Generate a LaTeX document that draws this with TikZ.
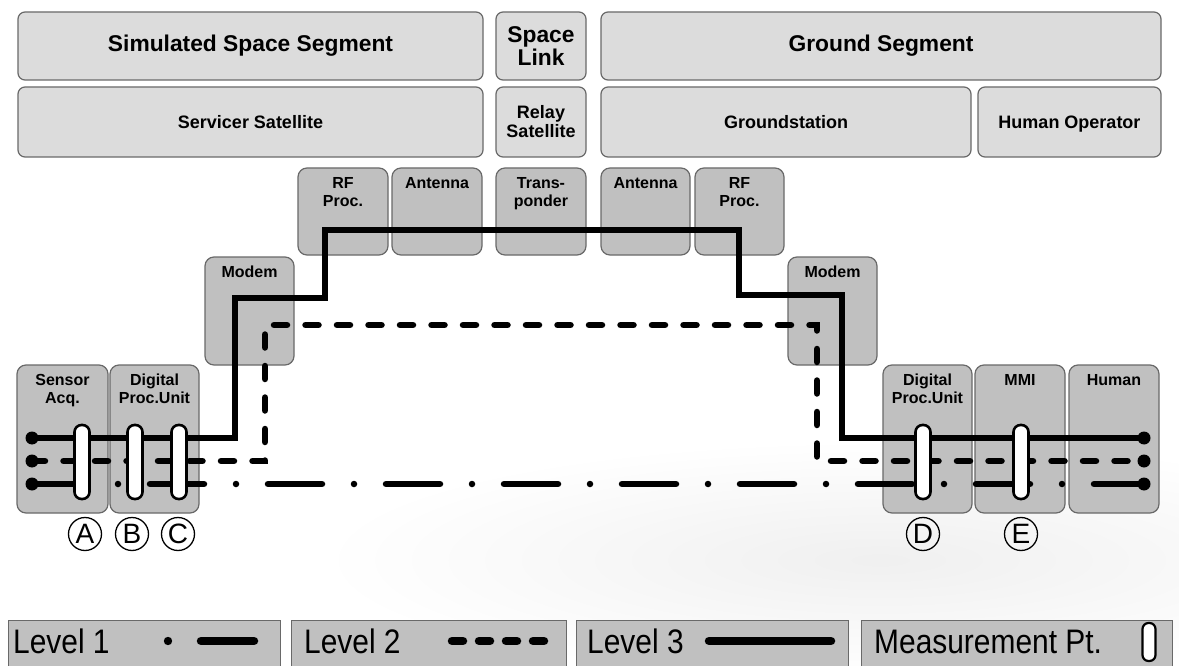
\documentclass[tikz,border=0pt]{standalone}
\usepackage{fontspec}
\setmainfont{Liberation Sans}
\usepackage{graphicx}
\definecolor{segfill}{RGB}{220,220,220}
\definecolor{compfill}{RGB}{192,192,192}
\definecolor{edgecol}{RGB}{105,105,105}
\begin{document}
\begin{tikzpicture}[x=1pt,y=-1pt,
  seg/.style={draw=edgecol, line width=1.2pt, fill=segfill, rounded corners=7pt,
    anchor=north west, inner sep=0pt, outer sep=0pt, align=center, text=black},
  comp/.style={draw=edgecol, line width=1.2pt, fill=compfill, rounded corners=9pt,
    anchor=north west, inner sep=0pt, outer sep=0pt},
  big/.style={font=\fontsize{22.8}{23.5}\selectfont\bfseries},
  mid/.style={font=\fontsize{18}{19}\selectfont\bfseries},
  clab/.style={anchor=north, inner sep=0pt, align=center,
    font=\fontsize{16}{18}\selectfont\bfseries},
  lvlthree/.style={line width=6.5pt, line cap=round, line join=miter},
  lvltwo/.style={line width=6.5pt, line cap=round, dash pattern=on 13pt off 18.5pt},
  lvlone/.style={line width=6.5pt, line cap=round, dash pattern=on 54pt off 32pt on 0pt off 32pt},
  enddot/.style={circle, fill=black, minimum size=13pt, inner sep=0pt},
  mpt/.style={draw=black, fill=white, line width=2.6pt, rounded corners=7pt,
    minimum width=15pt, minimum height=74pt, inner sep=0pt},
  circlab/.style={circle, draw=black, line width=1.3pt, minimum size=33pt, inner sep=0pt,
    font=\fontsize{28}{28}\selectfont},
  legbox/.style={draw=edgecol, line width=1pt, fill=compfill, anchor=north west,
    minimum height=56pt, inner sep=0pt, outer sep=0pt},
  legtext/.style={anchor=base west, inner sep=0pt, font=\fontsize{34}{34}\selectfont}
]
\useasboundingbox (0,0) rectangle (1179,666);
\clip (0,0) rectangle (1179,666);
\fill[white] (0,0) rectangle (1179,666);
\shade[inner color=gray!12, outer color=white] (880,560) ellipse [x radius=560pt, y radius=120pt];

% Row 1
\node[seg, big, minimum width=465pt, minimum height=68pt] (sim) at (18,12) {Simulated Space Segment};
\node[seg, big, minimum width=90pt, minimum height=68pt] (slink) at (496,12) {Space\\Link};
\node[seg, big, minimum width=560pt, minimum height=68pt] (gseg) at (601,12) {Ground Segment};
% Row 2
\node[seg, mid, minimum width=465pt, minimum height=70pt] (serv) at (18,87) {Servicer Satellite};
\node[seg, mid, minimum width=90pt, minimum height=70pt] (relay) at (496,87) {Relay\\Satellite};
\node[seg, mid, minimum width=370pt, minimum height=70pt] (gstat) at (601,87) {Groundstation};
\node[seg, mid, minimum width=183pt, minimum height=70pt, text depth=0pt] (hop) at (978,87) {Human Operator};

% Row 3
\node[comp, minimum width=90pt, minimum height=87pt] (rfl) at (298,168) {};
\node[comp, minimum width=90pt, minimum height=87pt] (antl) at (392,168) {};
\node[comp, minimum width=90pt, minimum height=87pt] (trans) at (496,168) {};
\node[comp, minimum width=89pt, minimum height=87pt] (antr) at (601,168) {};
\node[comp, minimum width=89pt, minimum height=87pt] (rfr) at (695,168) {};
% Modems
\node[comp, minimum width=89pt, minimum height=108pt] (modl) at (205,257) {};
\node[comp, minimum width=89pt, minimum height=108pt] (modr) at (788,257) {};
% Bottom
\node[comp, minimum width=91pt, minimum height=148pt] (sens) at (17,365) {};
\node[comp, minimum width=89pt, minimum height=148pt] (dpul) at (110,365) {};
\node[comp, minimum width=89pt, minimum height=148pt] (dpur) at (883,365) {};
\node[comp, minimum width=90pt, minimum height=148pt] (mmi) at (975,365) {};
\node[comp, minimum width=90pt, minimum height=148pt] (hum) at (1069,365) {};

\node[clab] (trfl) at ([yshift=-9pt]rfl.north) {RF\\Proc.};
\node[clab] (tantl) at ([yshift=-9pt]antl.north) {Antenna};
\node[clab] (ttrans) at ([yshift=-9pt]trans.north) {Trans-\\ponder};
\node[clab] (tantr) at ([yshift=-9pt]antr.north) {Antenna};
\node[clab] (trfr) at ([yshift=-9pt]rfr.north) {RF\\Proc.};
\node[clab] (tmodl) at ([yshift=-9pt]modl.north) {Modem};
\node[clab] (tmodr) at ([yshift=-9pt]modr.north) {Modem};
\node[clab] (tsens) at ([yshift=-9pt]sens.north) {Sensor\\Acq.};
\node[clab] (tdpul) at ([yshift=-9pt]dpul.north) {Digital\\Proc.Unit};
\node[clab] (tdpur) at ([yshift=-9pt]dpur.north) {Digital\\Proc.Unit};
\node[clab] (tmmi) at ([yshift=-9pt]mmi.north) {MMI};
\node[clab] (thum) at ([yshift=-9pt]hum.north) {Human};

% Level lines
\node[enddot] (l3s) at (32,438) {};
\node[enddot] (l3e) at (1144,438) {};
\node[enddot] (l2s) at (32,461) {};
\node[enddot] (l2e) at (1144,461) {};
\node[enddot] (l1s) at (32,484) {};
\node[enddot] (l1e) at (1144,484) {};

\draw[lvlthree] (l3s.center) -- (235,438) -- (235,298) -- (325,298) -- (325,230)
  -- (739,230) -- (739,295) -- (842,295) -- (842,438) -- (l3e.center);
\draw[lvltwo] (l2s.center) -- (265,461) -- (265,325) -- (817,325) -- (817,461) -- (l2e.center);
\draw[lvlone] (l1s.center) -- (l1e.center);

% Measurement points
\node[mpt] (mA) at (82,462) {};
\node[mpt] (mB) at (135,462) {};
\node[mpt] (mC) at (179,462) {};
\node[mpt] (mD) at (923,462) {};
\node[mpt] (mE) at (1021,462) {};

\node[circlab] (cA) at (85,534) {A};
\node[circlab] (cB) at (132,534) {B};
\node[circlab] (cC) at (178,534) {C};
\node[circlab] (cD) at (923,534) {D};
\node[circlab] (cE) at (1021,534) {E};

% Legend
\node[legbox, minimum width=272pt] (lg1) at (8,620) {};
\node[legbox, minimum width=275pt] (lg2) at (291,620) {};
\node[legbox, minimum width=272pt] (lg3) at (576,620) {};
\node[legbox, minimum width=311pt] (lg4) at (861,620) {};

\node[legtext] (lt1) at (13,653) {\scalebox{0.88}[1]{Level 1}};
\node[legtext] (lt2) at (304,653) {\scalebox{0.88}[1]{Level 2}};
\node[legtext] (lt3) at (587,653) {\scalebox{0.88}[1]{Level 3}};
\node[legtext] (lt4) at (874,653) {\scalebox{0.88}[1]{Measurement Pt.}};

\fill (168,641) circle [radius=4.2pt];
\draw[line width=8.5pt, line cap=round] (201,641) -- (254,641);
\draw[line width=8.5pt, line cap=round, dash pattern=on 11pt off 16pt] (452,641) -- (547,641);
\draw[line width=8.5pt, line cap=round] (709,641) -- (831,641);
\node[mpt, minimum width=13pt, minimum height=38pt, line width=2.2pt, rounded corners=6pt] (lgm) at (1149,642) {};
\end{tikzpicture}
\end{document}
